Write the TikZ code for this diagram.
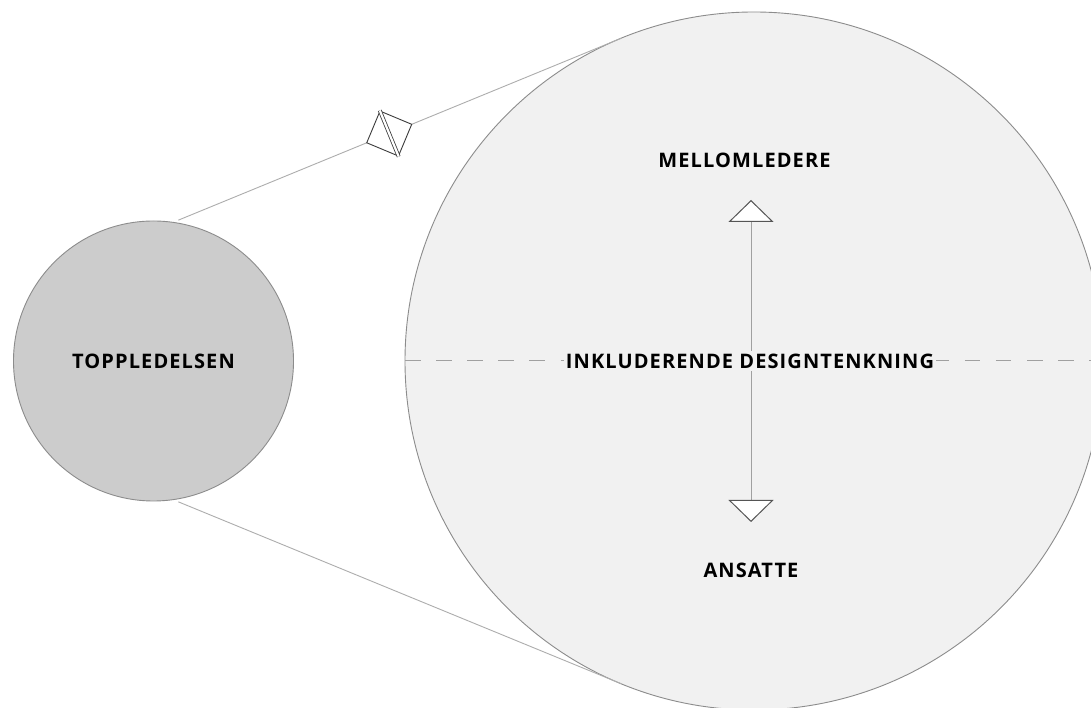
\documentclass[tikz,border=0pt]{standalone}
\usepackage{fontspec}
\setmainfont{Open Sans}
\newfontfamily\tracked{Open Sans}[LetterSpace=5.5]
\usetikzlibrary{calc,shapes.geometric,arrows.meta}

\definecolor{smallfill}{HTML}{CCCCCC}
\definecolor{bigfill}{HTML}{F1F1F1}
\definecolor{rim}{HTML}{8C8C8C}
\definecolor{linkgray}{HTML}{ADADAD}
\definecolor{axisgray}{HTML}{A0A0A0}
\definecolor{tipgray}{HTML}{555555}
\definecolor{markgray}{HTML}{3C3C3C}

\tikzset{
  lbl/.style={font=\tracked\fontsize{20}{22}\selectfont\bfseries, text=black, inner sep=0pt},
  disc/.style={circle, draw=rim, line width=0.9pt, inner sep=0pt, outer sep=0pt},
  link/.style={draw=linkgray, line width=0.9pt},
  axis/.style={draw=axisgray, line width=1pt},
}

\begin{document}
\begin{tikzpicture}[x=1pt,y=1pt]
  \useasboundingbox (0,0) rectangle (1091,708);
  \fill[white] (0,0) rectangle (1091,708);

  % the two circles
  \node[disc, fill=bigfill, minimum size=698pt] (big) at (754,347) {};
  \node[disc, fill=smallfill, minimum size=280pt] (small) at (153.5,347) {};

  % start points just outside the small circle, links tangent to the big one
  \coordinate (s1) at ($(small.center)+(80:143)$);
  \coordinate (s2) at ($(small.center)+(-80:143)$);
  \coordinate (t1) at (tangent cs:node=big,point={(s1)},solution=2);
  \coordinate (t2) at (tangent cs:node=big,point={(s2)},solution=1);

  \draw[link] (s1) -- (t1);
  \draw[link] (s2) -- (t2);

  % marker on the upper link
  \path let \p1=($(t1)-(s1)$), \n1={atan2(\y1,\x1)} in
    node[diamond, draw=markgray, fill=white, line width=0.9pt, inner sep=0pt,
         minimum width=49pt, minimum height=49pt, rotate=\n1]
         (brk) at ($(s1)!0.476!(t1)$) {};
  \draw[markgray, line width=0.8pt, double=white, double distance=2.2pt]
    (brk.north) -- (brk.south);

  % horizontal dashed divider
  \draw[axis, dash pattern=on 15.5pt off 15.6pt] (big.west) -- (big.east);

  % vertical double-headed axis
  \coordinate (up) at (751,508);
  \coordinate (dn) at (751,186);
  \draw[axis, {Triangle[width=45pt, length=22pt, fill=white, color=tipgray, line width=1pt]}-{Triangle[width=45pt, length=22pt, fill=white, color=tipgray, line width=1pt]}] (dn) -- (up);

  % labels
  \node[lbl] (top) at (153.5,347) {TOPPLEDELSEN};
  \node[lbl] (mid) at (744.5,548) {MELLOMLEDERE};
  \node[lbl] (low) at (751,138) {ANSATTE};
  \node[lbl, fill=bigfill, inner xsep=1.5pt, inner ysep=3pt] (core) at (750,347) {INKLUDERENDE DESIGNTENKNING};
\end{tikzpicture}
\end{document}
